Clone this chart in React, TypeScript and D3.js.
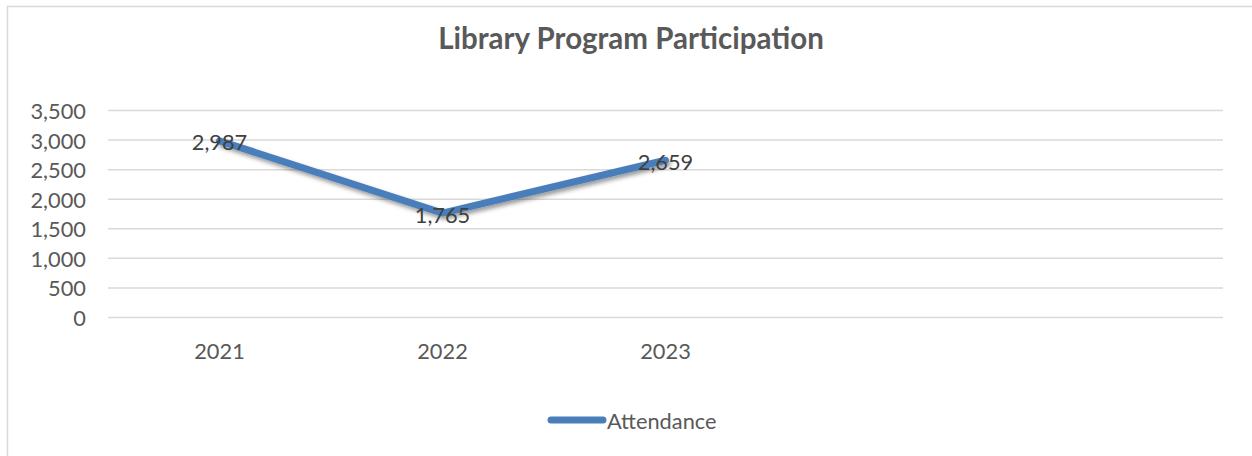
import React, { useEffect, useRef } from 'react';
import * as d3 from 'd3';

const categories = ['2021', '2022', '2023', '', ''];
const attendance = [2987, 1765, 2659];
const yTicks = [0, 500, 1000, 1500, 2000, 2500, 3000, 3500];
const seriesName = 'Attendance';
const title = 'Library Program Participation';

const App = () => {
  const chartRef = useRef<HTMLDivElement>(null);

  useEffect(() => {
    const width = 1252;
    const height = 456;
    const font = 'Lato, "Open Sans", sans-serif';
    const lineColor = '#4a7ebb';
    const labelSize = '21.8px';

    d3.select(chartRef.current).select('svg').remove();

    const svg = d3
      .select(chartRef.current)
      .append('svg')
      .attr('width', width)
      .attr('height', height)
      .style('position', 'absolute')
      .style('left', 0)
      .style('top', 0)
      .style('background', '#fff');

    // drop shadow for the line
    const defs = svg.append('defs');
    defs
      .append('filter')
      .attr('id', 'shadow')
      .attr('x', '-10%')
      .attr('y', '-20%')
      .attr('width', '130%')
      .attr('height', '150%')
      .append('feDropShadow')
      .attr('dx', 2)
      .attr('dy', 3)
      .attr('stdDeviation', 2)
      .attr('flood-color', '#000')
      .attr('flood-opacity', 0.4);

    // chart border
    svg
      .append('rect')
      .attr('x', 7.5)
      .attr('y', 6.5)
      .attr('width', width + 10)
      .attr('height', height + 10)
      .attr('fill', 'none')
      .attr('stroke', '#d9d9d9')
      .attr('stroke-width', 1.5);

    // title
    svg
      .append('text')
      .attr('x', 631)
      .attr('y', 37)
      .attr('text-anchor', 'middle')
      .attr('dominant-baseline', 'central')
      .attr('font-family', font)
      .attr('font-size', '29.5px')
      .attr('font-weight', 700)
      .attr('fill', '#595959')
      .text(title);

    const x = d3.scaleBand().domain(categories.map((c, i) => String(i))).range([108, 1223]);
    const y = d3.scaleLinear().domain([0, 3500]).range([317.5, 110.5]);

    // gridlines
    svg
      .append('g')
      .selectAll('line')
      .data(yTicks)
      .join('line')
      .attr('x1', 108)
      .attr('x2', 1223)
      .attr('y1', (d) => y(d))
      .attr('y2', (d) => y(d))
      .attr('stroke', '#d9d9d9')
      .attr('stroke-width', 1.5);

    // y labels
    svg
      .append('g')
      .selectAll('text')
      .data(yTicks)
      .join('text')
      .attr('x', 86)
      .attr('y', (d) => y(d))
      .attr('text-anchor', 'end')
      .attr('dominant-baseline', 'central')
      .attr('font-family', font)
      .attr('font-size', labelSize)
      .attr('fill', '#595959')
      .text((d) => d3.format(',')(d));

    // x labels
    svg
      .append('g')
      .selectAll('text')
      .data(categories)
      .join('text')
      .attr('x', (d, i) => x(String(i))! + x.bandwidth() / 2)
      .attr('y', 350)
      .attr('text-anchor', 'middle')
      .attr('dominant-baseline', 'central')
      .attr('font-family', font)
      .attr('font-size', labelSize)
      .attr('fill', '#595959')
      .text((d) => d);

    const cx = (i: number) => x(String(i))! + x.bandwidth() / 2;

    const line = d3
      .line<number>()
      .x((d, i) => cx(i))
      .y((d) => y(d));

    svg
      .append('path')
      .datum(attendance)
      .attr('d', line)
      .attr('fill', 'none')
      .attr('stroke', lineColor)
      .attr('stroke-width', 7)
      .attr('stroke-linejoin', 'round')
      .attr('stroke-linecap', 'round')
      .attr('filter', 'url(#shadow)');

    // data labels
    svg
      .append('g')
      .selectAll('text')
      .data(attendance)
      .join('text')
      .attr('x', (d, i) => cx(i))
      .attr('y', (d) => y(d) + 1)
      .attr('text-anchor', 'middle')
      .attr('dominant-baseline', 'central')
      .attr('font-family', font)
      .attr('font-size', labelSize)
      .attr('fill', '#404040')
      .text((d) => d3.format(',')(d));

    // legend
    const legend = svg.append('g');
    legend
      .append('line')
      .attr('x1', 551)
      .attr('x2', 603)
      .attr('y1', 420)
      .attr('y2', 420)
      .attr('stroke', lineColor)
      .attr('stroke-width', 7)
      .attr('stroke-linecap', 'round');
    legend
      .append('text')
      .attr('x', 607)
      .attr('y', 420)
      .attr('dominant-baseline', 'central')
      .attr('font-family', font)
      .attr('font-size', labelSize)
      .attr('fill', '#595959')
      .text(seriesName);
  }, []);

  return <div ref={chartRef}></div>;
};

export default App;
